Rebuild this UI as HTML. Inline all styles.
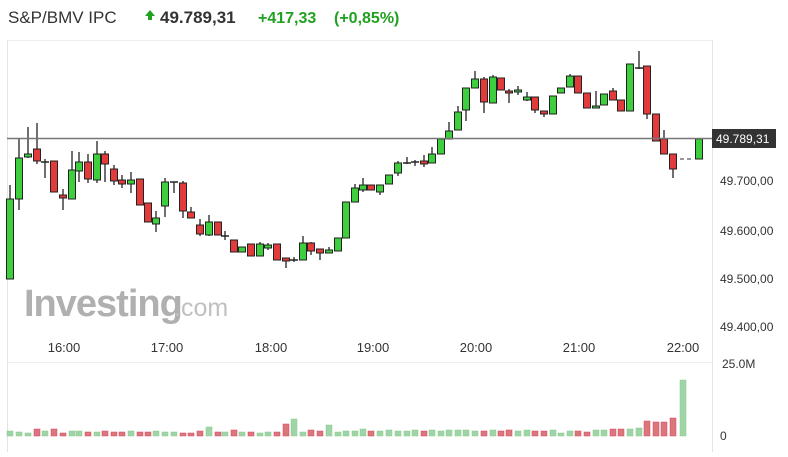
<!DOCTYPE html>
<html><head><meta charset="utf-8"><style>
body{margin:0;background:#fff;width:788px;height:452px;overflow:hidden;font-family:"Liberation Sans",sans-serif}
</style></head><body>
<svg id="s" width="788" height="452" xmlns="http://www.w3.org/2000/svg" font-family="Liberation Sans, sans-serif">
<text x="8" y="23" font-size="17" fill="#333">S&amp;P/BMV IPC</text>
<path d="M145 16 L150 10 L155 16 L152 16 L152 20 L148 20 L148 16Z" fill="#21a121"/>
<text x="160" y="23" font-size="17" font-weight="bold" fill="#333">49.789,31</text>
<text x="258" y="23" font-size="16" font-weight="bold" fill="#21a121">+417,33</text>
<text x="334" y="23" font-size="16" font-weight="bold" fill="#21a121">(+0,85%)</text>
<line x1="7.5" y1="40" x2="7.5" y2="452" stroke="#e4e4e4"/>
<line x1="712.5" y1="40" x2="712.5" y2="452" stroke="#e4e4e4"/>
<line x1="7" y1="40.5" x2="712" y2="40.5" stroke="#eee"/>
<line x1="7" y1="362.5" x2="712" y2="362.5" stroke="#eee"/>
<text x="24" y="316" font-size="38" font-weight="bold" fill="#b0b0b0" letter-spacing="-1">Investing</text>
<text x="174" y="316" font-size="25" fill="#c0c0c0">.com</text>
<g font-size="12" fill="#333">
<text x="720" y="185">49.700,00</text>
<text x="720" y="235">49.600,00</text>
<text x="720" y="283">49.500,00</text>
<text x="720" y="331">49.400,00</text>
<text x="722" y="368">25.0M</text>
<text x="720" y="440">0</text>
</g>
<g font-size="13" fill="#333" text-anchor="middle">
<text x="64" y="352">16:00</text><text x="167" y="352">17:00</text><text x="271" y="352">18:00</text>
<text x="373" y="352">19:00</text><text x="476" y="352">20:00</text><text x="579" y="352">21:00</text><text x="683" y="352">22:00</text>
</g>
<g id="c"></g>
<line x1="7" y1="138.5" x2="712" y2="138.5" stroke="#777" stroke-width="1.5"/>
<line x1="680" y1="159" x2="692" y2="159" stroke="#333" stroke-dasharray="4,3"/>
<rect x="712" y="129" width="64" height="19" fill="#333"/>
<text x="716" y="143" font-size="12" fill="#fff">49.789,31</text>
</svg>
<script>
var d=[[10,'g',199,279,185,279],[19,'g',158,199,139,210],[28,'g',154,157,127,158],[37,'r',149,161,123,164],[45,'d',162,162,159,178],[54,'r',161,192,161,192],[63,'r',195,198,189,210],[72,'g',170,199,151,199],[79,'g',162,171,152,182],[88,'r',162,179,154,183],[97,'g',154,180,141,183],[105,'r',154,164,151,182],[114,'r',169,181,165,185],[122,'r',180,184,175,188],[131,'g',180,184,172,193],[140,'r',179,205,179,205],[148,'r',203,222,203,222],[156,'g',218,224,211,232],[165,'g',182,206,178,217],[174,'d',182,182,182,193],[183,'r',183,211,181,218],[191,'r',212,218,207,218],[200,'r',225,234,219,236],[209,'g',222,235,215,236],[218,'r',222,235,222,235],[225,'d',236,236,231,240],[234,'r',240,252,240,252],[242,'g',247,252,247,252],[251,'r',244,256,244,256],[260,'g',244,256,242,256],[268,'g',245,248,243,250],[277,'r',244,260,244,260],[286,'r',258,261,258,268],[294,'d',260,260,257,262],[303,'g',243,260,236,260],[311,'r',243,251,242,255],[320,'r',249,253,249,260],[329,'g',250,253,247,253],[338,'g',238,251,238,251],[346,'g',202,238,202,238],[355,'g',188,202,184,202],[363,'g',185,190,178,192],[371,'r',185,190,185,190],[380,'g',185,192,185,195],[389,'g',175,184,175,184],[398,'g',163,173,161,176],[407,'d',163,163,157,164],[415,'d',162,162,160,166],[424,'r',161,164,155,167],[432,'g',154,163,147,163],[441,'g',139,154,139,154],[449,'g',131,139,122,139],[458,'g',112,130,106,130],[466,'g',88,110,88,121],[475,'g',79,88,71,88],[484,'r',79,102,77,113],[493,'g',77,103,75,103],[501,'r',78,90,78,90],[509,'r',91,93,89,103],[518,'g',90,92,86,95],[527,'g',97,100,92,101],[535,'r',97,110,97,113],[544,'r',111,114,111,117],[553,'g',96,114,96,114],[561,'g',88,93,88,93],[570,'g',76,87,74,87],[578,'r',76,93,76,93],[587,'r',93,108,93,108],[596,'g',106,108,91,108],[604,'g',94,105,94,105],[613,'r',91,100,88,100],[621,'r',100,111,100,111],[630,'g',64,111,64,111],[639,'d',68,68,51,69],[647,'r',66,114,66,119],[656,'r',114,141,114,141],[664,'r',139,154,130,154],[673,'r',154,169,154,178],[699,'g',139,159,139,159]];
var vh=[5,4,3,7,5,7,3,5,5,4,4,5,4,4,5,4,4,5,4,4,3,3,5,9,4,4,6,4,4,3,4,4,12,17,4,6,5,11,4,5,5,7,5,5,6,5,5,6,5,6,5,6,6,6,5,5,6,5,6,5,6,5,5,6,3,5,5,4,6,6,7,7,7,8,15,14,14,18,56];
var s='';
d.forEach(function(c,i){var x=c[0],col=c[1]=='g'?'#3ecf3e':c[1]=='r'?'#e23b3b':'#333';
s+='<line x1="'+x+'" y1="'+c[4]+'" x2="'+x+'" y2="'+c[5]+'" stroke="#222" stroke-width="1.3"/>';
if(c[1]=='d')s+='<line x1="'+(x-4)+'" y1="'+c[2]+'" x2="'+(x+4)+'" y2="'+c[2]+'" stroke="#222" stroke-width="1.5"/>';
else s+='<rect x="'+(x-3.5)+'" y="'+c[2]+'" width="7" height="'+Math.max(2,c[3]-c[2])+'" fill="'+col+'" stroke="#222" stroke-width="1"/>';
var h=vh[i]||5;var vx=(i==d.length-1)?683:x;var vc=c[1]=='r'?'#d9777a':'#9fd3a8';
s+='<rect x="'+(vx-3)+'" y="'+(436-h)+'" width="6" height="'+h+'" fill="'+vc+'" stroke="'+(c[1]=='r'?'#d46':'#8c8')+'" stroke-width="0.5"/>';});
document.getElementById('c').innerHTML=s;
</script>
</body></html>
